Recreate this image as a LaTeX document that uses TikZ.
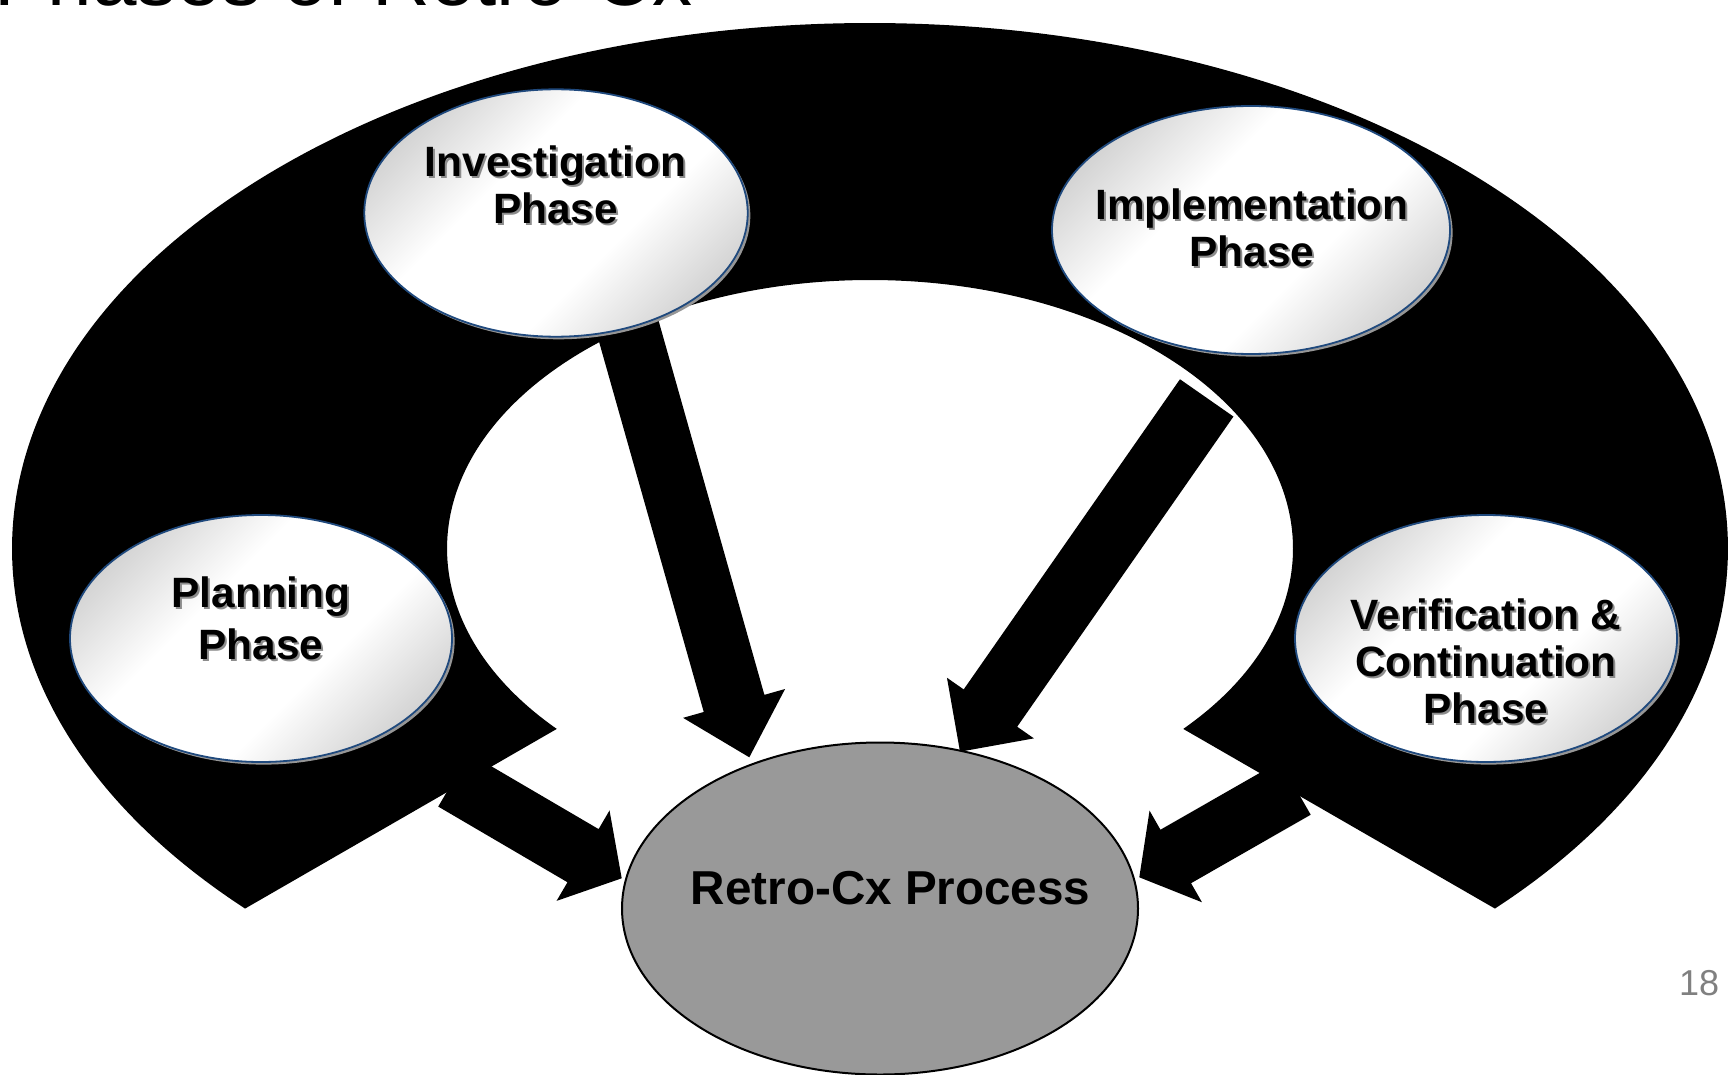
\documentclass[tikz,border=0pt]{standalone}
\usepackage{fontspec}
\setmainfont{Liberation Sans}
\usetikzlibrary{shapes.geometric,calc}
\definecolor{phaseline}{RGB}{31,73,125}
\definecolor{retrofill}{RGB}{153,153,153}
\definecolor{pgnum}{RGB}{128,128,128}
\definecolor{shgray}{RGB}{155,155,155}
\definecolor{shgrayb}{RGB}{188,188,188}
\definecolor{phshadow}{RGB}{150,150,150}
\definecolor{txtshadow}{RGB}{140,140,140}
\pgfdeclareverticalshading{phaseshade}{100bp}{color(0bp)=(shgray); color(16bp)=(shgrayb); color(40bp)=(white); color(60bp)=(white); color(84bp)=(shgrayb); color(100bp)=(shgray)}
\newcommand\shtxt[1]{\leavevmode\rlap{\kern1pt\raisebox{-1pt}{\textcolor{txtshadow}{#1}}}#1}
\newcommand\blockarrow[5]{%
  \coordinate (ba-b) at ($(#2)!#5!(#1)$);
  \fill[blk] ($(#1)!#3!90:(#2)$) -- ($(ba-b)!#3!90:(#2)$) -- ($(ba-b)!#4!90:(#2)$) -- (#2)
    -- ($(ba-b)!#4!-90:(#2)$) -- ($(ba-b)!#3!-90:(#2)$) -- ($(#1)!#3!-90:(#2)$) -- cycle;}
\begin{document}
\begin{tikzpicture}[x=0.5pt,y=-0.5pt,
  phase/.style={ellipse, draw=phaseline, line width=0.9pt, shade, shading=phaseshade,
    shading angle=45, inner sep=0pt,
    preaction={fill=phshadow, transform canvas={shift={(1.3pt,-1.3pt)}}}},
  phasetext/.style={align=center, font=\bfseries\fontsize{21.2}{23.5}\selectfont, inner sep=0pt},
  blk/.style={fill=black},
]
\useasboundingbox (0,0) rectangle (1733,1075);
\clip (0,0) rectangle (1733,1075);

% title (cut off at the top of the slide)
\node[anchor=base west, inner sep=0pt, font=\fontsize{40}{48}\selectfont] (title) at (-6,6) {Phases of Retro-Cx};

% black block arc
\coordinate (ctr) at (870,548.5);
\fill[blk] ($(ctr)+(136.75:858 and 525.5)$)
  arc[start angle=136.75, end angle=403.25, x radius=858, y radius=525.5]
  -- ($(ctr)+(42.22:423 and 268.5)$)
  arc[start angle=42.22, end angle=-222.22, x radius=423, y radius=268.5] -- cycle;

% arrow ends
\coordinate (inv-out) at (618.7,295.5);
\coordinate (retro-in1) at (749.3,757.3);
\coordinate (imp-out) at (1206.7,397.9);
\coordinate (retro-in2) at (960,751.7);
\coordinate (plan-out) at (453.8,780);
\coordinate (retro-in3) at (621.7,878.3);
\coordinate (ver-out) at (1295.4,788);
\coordinate (retro-in4) at (1139.3,877.3);

\blockarrow{inv-out}{retro-in1}{15.75pt}{26.5pt}{28pt}
\blockarrow{imp-out}{retro-in2}{16.3pt}{26.5pt}{26.6pt}
\blockarrow{plan-out}{retro-in3}{15.4pt}{26.2pt}{22.4pt}
\blockarrow{ver-out}{retro-in4}{15.4pt}{26.4pt}{21pt}

% phase ellipses
\node[phase, minimum width=383.4pt*0.5, minimum height=247.4pt*0.5] (inv) at (556,213) {};
\node[phase, minimum width=398pt*0.5, minimum height=248pt*0.5] (imp) at (1251,230) {};
\node[phase, minimum width=382pt*0.5, minimum height=247pt*0.5] (plan) at (261,638.5) {};
\node[phase, minimum width=382pt*0.5, minimum height=247pt*0.5] (ver) at (1486,638.5) {};

\node[phasetext] (inv-t) at (555.5,185.4) {\shtxt{Investigation}\\\shtxt{Phase}};
\node[phasetext] (imp-t) at (1252,229.3) {\shtxt{Implementation}\\\shtxt{Phase}};
\node[phasetext, font=\bfseries\fontsize{21.2}{26}\selectfont] (plan-t) at (261,619) {\shtxt{Planning}\\\shtxt{Phase}};
\node[phasetext] (ver-t) at (1486,662) {\shtxt{Verification \&}\\\shtxt{Continuation}\\\shtxt{Phase}};

% central ellipse
\node[ellipse, draw=black, line width=1pt, fill=retrofill, inner sep=0pt,
  minimum width=516pt*0.5, minimum height=332pt*0.5] (retro) at (880,908.5) {};
\node[anchor=base, inner sep=0pt, font=\bfseries\fontsize{23.8}{28}\selectfont] (retro-t) at (890.6,904) {Retro-Cx Process};

% page number
\node[anchor=base west, inner sep=0pt, text=pgnum, font=\fontsize{18}{20}\selectfont] (pg) at (1678.7,995) {18};
\end{tikzpicture}
\end{document}
